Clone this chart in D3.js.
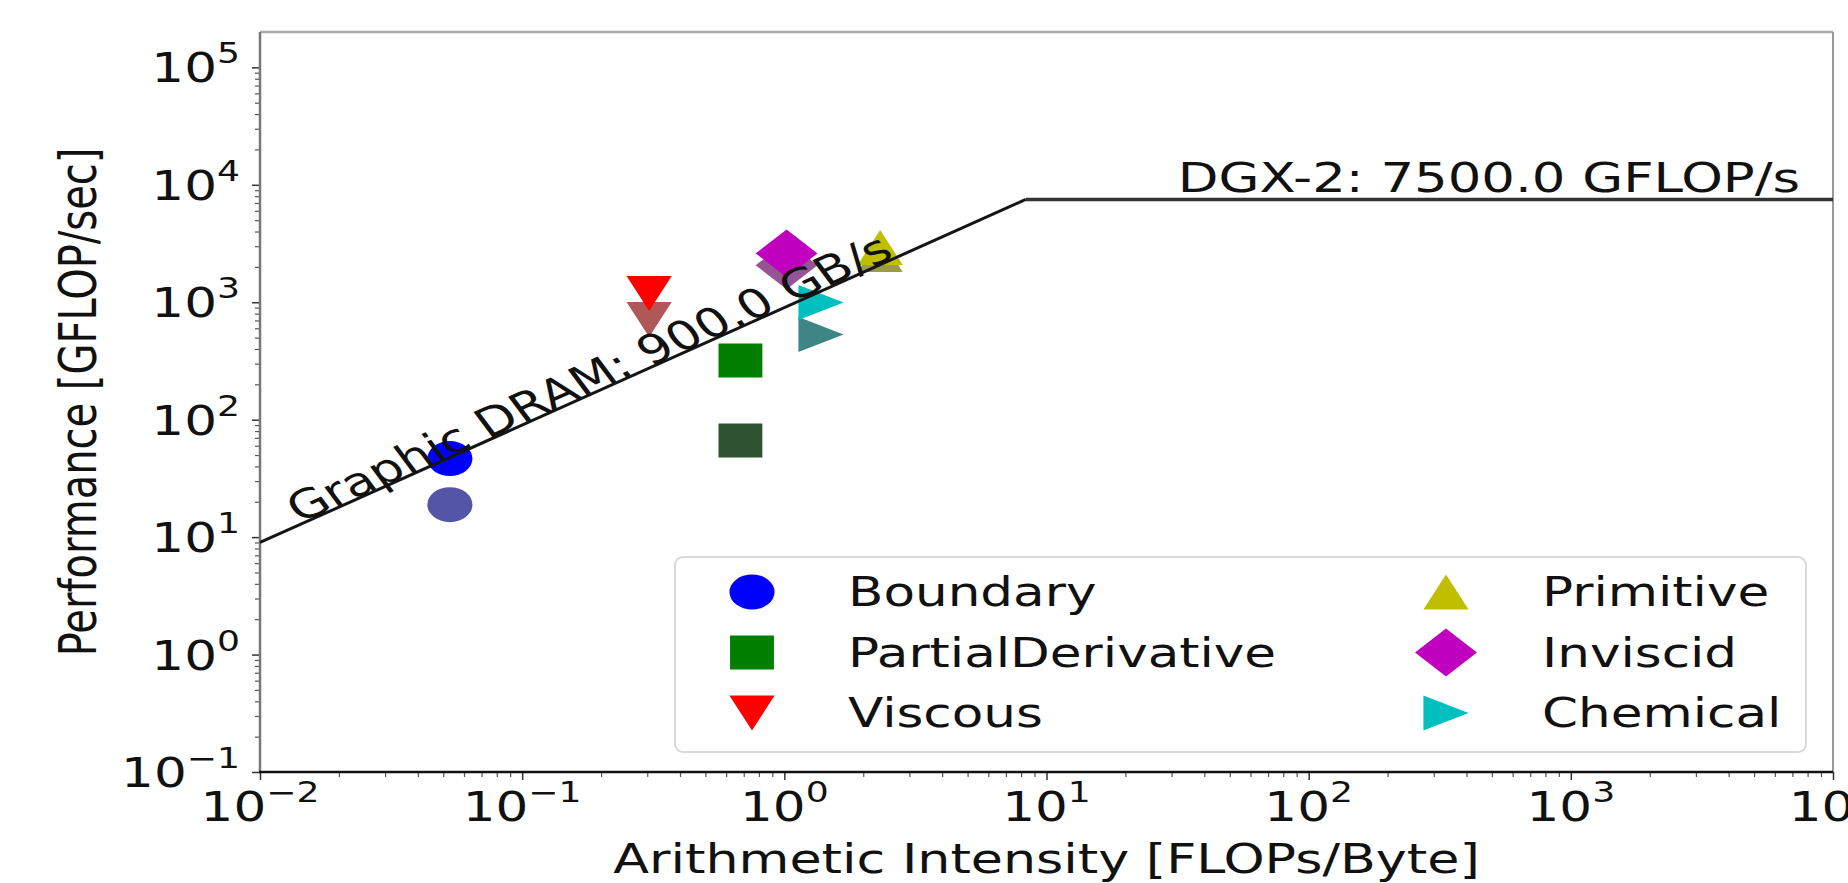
<!DOCTYPE html>
<html>
<head>
<meta charset="utf-8">
<script src="https://cdn.jsdelivr.net/npm/d3@7"></script>
<style>
body { margin: 0; background: #fff; }
svg text { font-family: "DejaVu Sans", sans-serif; fill: #111; }
</style>
</head>
<body>
<div id="chart"></div>
<script>
// kernels and measured points (two runs per kernel)
const kernels = ["Boundary", "PartialDerivative", "Viscous", "Primitive", "Inviscid", "Chemical"];
const intensity = [0.053, 0.68, 0.305, 2.32, 1.02, 1.38];
const perfRun1 = [46.6, 319, 1189, 2930, 2606, 996];
const perfRun2 = [18.9, 66.4, 713, 2555, 2061, 531];
const shapes = ["circle", "square", "tri-down", "tri-up", "diamond", "tri-right"];
const colorsRun1 = ["#0000ff", "#007f00", "#ff0000", "#bfbf00", "#bf00bf", "#00bfbf"];
const colorsRun2 = ["#5555a8", "#2e5230", "#b05858", "#9a9a48", "#955595", "#408585"];

// machine
const peakFlops = 7500.0;
const bandwidth = 900.0;
const xTickExps = [-2, -1, 0, 1, 2, 3, 4];
const yTickExps = [-1, 0, 1, 2, 3, 4, 5];

var width = 1848, height = 883;
var margin = {top: 32, right: 15, bottom: 111, left: 260};
var stretch = 1.29;   // picture is wider than tall, text and markers too

var svg = d3.select("#chart").append("svg")
  .attr("width", width)
  .attr("height", height);

var x = d3.scaleLog()
  .domain([1e-2, 1e4])
  .range([margin.left, width - margin.right]);
var y = d3.scaleLog()
  .domain([1e-1, 2e5])
  .range([height - margin.bottom, margin.top]);

var sup = e => (e < 0 ? "\u2212" : "") + Math.abs(e);

function minors(lo, hi) {
  var out = [];
  for (var e = lo; e < hi; e++)
    for (var k = 2; k < 10; k++) out.push(k * Math.pow(10, e));
  return out;
}

// ticks
svg.append("g")
  .attr("transform", `translate(0,${y.range()[0]})`)
  .call(d3.axisBottom(x).tickValues(xTickExps.map(e => Math.pow(10, e))).tickSize(8).tickFormat(""))
  .call(g => g.select(".domain").remove())
  .selectAll("line").attr("stroke", "#333").attr("stroke-width", 1.5);
svg.append("g")
  .attr("transform", `translate(0,${y.range()[0]})`)
  .call(d3.axisBottom(x).tickValues(minors(-2, 4)).tickSize(5).tickFormat(""))
  .call(g => g.select(".domain").remove())
  .selectAll("line").attr("stroke", "#555").attr("stroke-width", 1.2);
svg.append("g")
  .attr("transform", `translate(${x.range()[0]},0)`)
  .call(d3.axisLeft(y).tickValues(yTickExps.map(e => Math.pow(10, e))).tickSize(8).tickFormat(""))
  .call(g => g.select(".domain").remove())
  .selectAll("line").attr("stroke", "#333").attr("stroke-width", 1.5);
svg.append("g")
  .attr("transform", `translate(${x.range()[0]},0)`)
  .call(d3.axisLeft(y).tickValues(minors(-1, 5)).tickSize(5).tickFormat(""))
  .call(g => g.select(".domain").remove())
  .selectAll("line").attr("stroke", "#555").attr("stroke-width", 1.2);

// tick labels
var xl = svg.append("g").selectAll("text")
  .data(xTickExps).enter().append("text")
  .attr("transform", d => `translate(${x(Math.pow(10, d))},821) scale(${stretch},1)`)
  .attr("text-anchor", "middle")
  .style("font-size", "40px");
xl.append("tspan").text("10");
xl.append("tspan").attr("dy", -19).style("font-size", "28px").text(d => sup(d));

var yl = svg.append("g").selectAll("text")
  .data(yTickExps).enter().append("text")
  .attr("transform", d => `translate(240,${y(Math.pow(10, d)) + 15}) scale(${stretch},1)`)
  .attr("text-anchor", "end")
  .style("font-size", "40px");
yl.append("tspan").text("10");
yl.append("tspan").attr("dy", -19).style("font-size", "28px").text(d => sup(d));

// spines
var x0 = x.range()[0], x1 = x.range()[1], y0 = y.range()[0], y1 = y.range()[1];
svg.append("line").attr("x1", x0).attr("x2", x1).attr("y1", y1).attr("y2", y1).attr("stroke", "#aaa").attr("stroke-width", 2.5);
svg.append("line").attr("x1", x1).attr("x2", x1).attr("y1", y1).attr("y2", y0).attr("stroke", "#999").attr("stroke-width", 2);
svg.append("line").attr("x1", x0).attr("x2", x0).attr("y1", y1).attr("y2", y0).attr("stroke", "#777").attr("stroke-width", 2.5);
svg.append("line").attr("x1", x0 - 1).attr("x2", x1).attr("y1", y0).attr("y2", y0).attr("stroke", "#111").attr("stroke-width", 2.5);

// markers
function markerPath(shape) {
  var r = 17.5;
  switch (shape) {
    case "circle": { var p = d3.path(); p.arc(0, 0, r, 0, 2 * Math.PI); return p.toString(); }
    case "square": return "M-17,-17H17V17H-17Z";
    case "tri-down": return `M${-r},${-r}L${r},${-r}L0,${r}Z`;
    case "tri-up": return `M0,${-r}L${r},${r}L${-r},${r}Z`;
    case "tri-right": return `M${r},0L${-r},${-r}L${-r},${r}Z`;
    case "diamond": return "M0,-24L24,0L0,24L-24,0Z";
  }
}

var pts = svg.append("g");
pts.selectAll(".run2").data(kernels).enter().append("path")
  .attr("d", (d, i) => markerPath(shapes[i]))
  .attr("fill", (d, i) => colorsRun2[i])
  .attr("transform", (d, i) => `translate(${x(intensity[i])},${y(perfRun2[i])}) scale(${stretch},1)`);
pts.selectAll(".run1").data(kernels).enter().append("path")
  .attr("d", (d, i) => markerPath(shapes[i]))
  .attr("fill", (d, i) => colorsRun1[i])
  .attr("transform", (d, i) => `translate(${x(intensity[i])},${y(perfRun1[i])}) scale(${stretch},1)`);

// roofline
var ridge = peakFlops / bandwidth;
var roof = [[1e-2, bandwidth * 1e-2], [ridge, peakFlops], [1e4, peakFlops]];
svg.append("path")
  .attr("d", d3.line().x(d => x(d[0])).y(d => y(d[1]))(roof.slice(0, 2)))
  .attr("fill", "none").attr("stroke", "#151515").attr("stroke-width", 3);
svg.append("path")
  .attr("d", d3.line().x(d => x(d[0])).y(d => y(d[1]))(roof.slice(1)))
  .attr("fill", "none").attr("stroke", "#333").attr("stroke-width", 3.5);

// slope label, rotated along the memory roof
var dx = x(ridge) - x(1e-2), dy = y(bandwidth * 1e-2) - y(peakFlops);
var angle = Math.atan(dy * stretch / dx) * 180 / Math.PI;
var ai = 0.0142;
svg.append("text")
  .attr("transform", `translate(${x(ai)},${y(bandwidth * ai) - 1}) scale(${stretch},1) rotate(${-angle})`)
  .style("font-size", "40px")
  .text("Graphic DRAM: " + bandwidth.toFixed(1) + " GB/s");

svg.append("text")
  .attr("transform", `translate(1800,${y(peakFlops) - 7}) scale(${stretch},1)`)
  .attr("text-anchor", "end")
  .style("font-size", "41px")
  .text("DGX-2: " + peakFlops.toFixed(1) + " GFLOP/s");

// axis titles
svg.append("text")
  .attr("transform", `translate(${(x0 + x1) / 2},873) scale(${stretch},1)`)
  .attr("text-anchor", "middle")
  .style("font-size", "40.5px")
  .text("Arithmetic Intensity [FLOPs/Byte]");
svg.append("text")
  .attr("transform", `translate(96,${(y0 + y1) / 2}) scale(${stretch},1) rotate(-90)`)
  .attr("text-anchor", "middle")
  .style("font-size", "40px")
  .text("Performance [GFLOP/sec]");

// legend, two columns
var legend = svg.append("g");
legend.append("rect")
  .attr("x", 675).attr("y", 557).attr("width", 1131).attr("height", 195).attr("rx", 8)
  .attr("fill", "#fff").attr("fill-opacity", 0.85)
  .attr("stroke", "#d9d9d9").attr("stroke-width", 2);
var items = legend.selectAll(".item").data(kernels).enter().append("g")
  .attr("transform", (d, i) => `translate(${i < 3 ? 752 : 1446},${592 + (i % 3) * 60.5})`);
items.append("path")
  .attr("d", (d, i) => markerPath(shapes[i]))
  .attr("fill", (d, i) => colorsRun1[i])
  .attr("transform", `scale(${stretch},1)`);
items.append("text")
  .attr("transform", `translate(96,14) scale(${stretch},1)`)
  .style("font-size", "40px")
  .text(d => d);
</script>
</body>
</html>
